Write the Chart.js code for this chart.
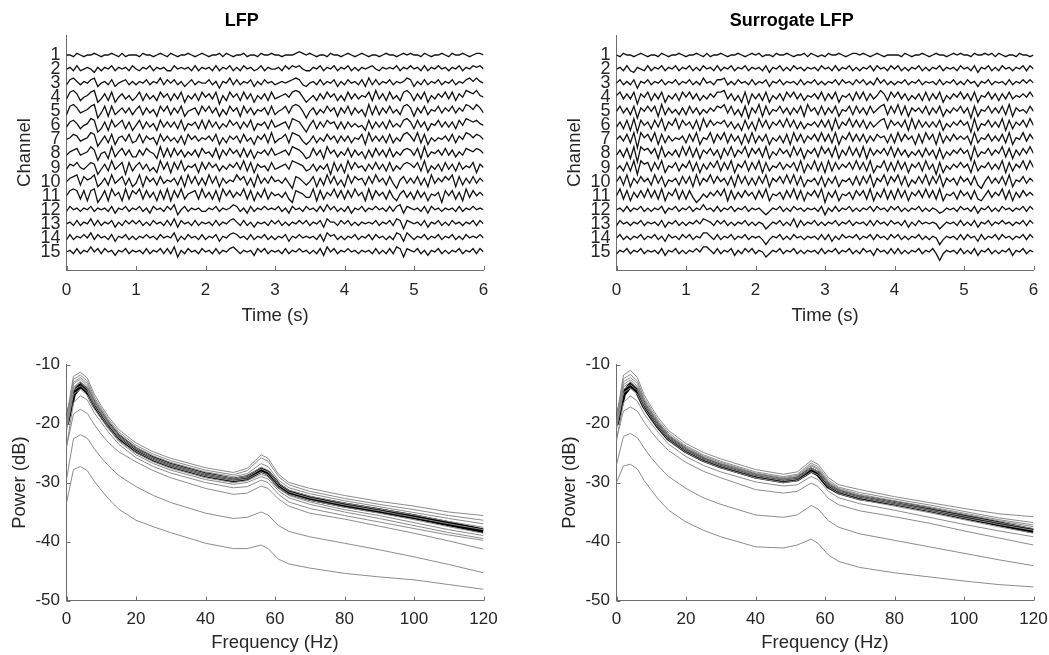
<!DOCTYPE html>
<html>
<head>
<meta charset="utf-8">
<script src="https://cdn.jsdelivr.net/npm/chart.js@4.4.0/dist/chart.umd.min.js"></script>
<style>
  html, body { margin: 0; padding: 0; background: #fff; overflow: hidden; width: 1049px; height: 655px; }
  canvas { position: absolute; }
</style>
</head>
<body>
<canvas id="lfp" width="550" height="330" style="left:0;top:0"></canvas>
<canvas id="surr" width="550" height="330" style="left:550px;top:0"></canvas>
<canvas id="psdL" width="550" height="325" style="left:0;top:330px"></canvas>
<canvas id="psdR" width="550" height="325" style="left:550px;top:330px"></canvas>
<script>
// channel rows and tick labels
const channels = [1, 2, 3, 4, 5, 6, 7, 8, 9, 10, 11, 12, 13, 14, 15];
const timeTicks = [0, 1, 2, 3, 4, 5, 6];
const freqTicks = [0, 20, 40, 60, 80, 100, 120];
const powerTicks = [-50, -40, -30, -20, -10];

// traces, one digit per 0.05 s (5 = baseline, higher = up)
const sampleStep = 0.05;
const traceScale = 0.12;
const lfpTraces = [
  "5546545565 4556546455 5465545654 6545565456 5455646545 5645546556 5545556765 6545546554 5654565455 4565545656 5546545565 4655654566 5",
  "5647456536 4657465647 5465746564 4756564746 5647465746 4756457465 5647576754 4657465746 5746465675 4656574657 5647465756 4657465767 5",
  "4786465783 5647356746 4657465847 5746357465 5746265847 4657364756 4565678743 5647465736 4756473847 4657465687 3647465746 5746578686 5",
  "4897356892 4738257463 5837463857 3748264738 5748163857 3847264738 4567589852 4637485736 3847465839 4738463897 3748264758 4837598796 5",
  "3897456891 4828357473 6837462858 3748256738 5847263857 2847365738 3568489851 5736485727 4837462938 3748463897 2748365847 5847598697 4",
  "4786356981 3728468372 5837462847 4738265738 3847364857 3748265738 4567398741 5837486737 3746452837 4738464897 3847265847 4738598786 5",
  "5687456981 4738267483 4837562847 4637285746 5748263757 3846275839 3568398742 4736485737 4736582947 4738364897 4938264657 4837598687 5",
  "4678456971 5629368473 3748652938 3847364738 5638274857 3837265748 4567498752 3847295736 4837462738 4738364787 4829365748 4736487687 5",
  "4768546871 4739468183 6847352948 2849365728 4857364758 4938275638 4567498763 4736471837 2948563748 4738364787 5839264738 4738465827 5",
  "5789386792 4739468372 4928573846 5738294837 3948274659 6837294748 5647418753 5827394836 2948673849 5738416847 4837294758 6928374847 5",
  "5898382891 4829572938 6938472839 2849367839 4738295847 5938274937 5647318764 4928375948 3849572938 5738426847 3847265718 5837294857 5",
  "4756465746 5647365746 5746375647 5825746564 4657465687 4637465756 5746375647 5647485746 4736574657 5647478376 5647375646 5647465756 5",
  "5647465847 4657364757 5746475647 4837564746 5647465786 4746365647 5746465757 4657386647 5746465657 4657487276 5647365746 4756465747 5",
  "4746575847 5647365746 4657564756 5836475647 4657365787 5647465746 4657365756 5647386746 4657465747 5646487386 4657465746 5746475657 5",
  "5647465857 4756365746 5647465747 4826475647 5647465786 4656375746 5647465756 4647385746 5756465647 4647487276 5746365746 4657465747 5"
];
const surrogateTraces = [
  "5465545654 5546545565 4556546455 6545565456 5645546556 5455646545 4655654566 5654565455 5546545565 4565545656 5546556564 6545546554 5",
  "5647436547 4657465746 5746475647 4657465746 5647365746 4756465647 5647465746 4657475647 5746465746 4657465647 5647365746 4756465747 5",
  "5746472657 4657465746 5746485647 7846475647 4657365746 5647465746 4657475647 5746485746 4657465746 5647465746 4756365746 5647465757 5",
  "6847481758 3748264738 5847364758 8947362817 4738264738 5847365748 3748265738 4837469738 5847364738 3748264758 4738265847 3748465758 5",
  "5847381758 5829374637 3847364758 7948362817 4928365847 3748295738 3748265838 4738468938 4938275748 3748264758 4718265847 4839275648 5",
  "4738291857 3849275938 5738294857 6847362837 2948375849 4837365748 4829375948 4837468938 5748293847 4748264758 5719265847 4928375849 5",
  "5748390968 4928374657 3849265938 5938472839 3748264738 2948375849 4839275948 4837486738 3948572839 5829374857 5729365847 4839265948 5",
  "4738290978 5829364739 4938275847 2849375938 5839264857 3948275839 5839274948 3928475849 3847364738 4728264758 5719365847 5938274859 5",
  "4638391978 3849265837 5938274859 3849275938 4928365847 5839274938 2938475849 4839265938 3948275839 4718264758 5729365847 4928375949 5",
  "5839274857 3948265738 4829375948 5738294837 3849275849 4938265738 2748265738 3849275938 5938264849 3849275738 5738315847 4839265847 5",
  "5938274849 4839275938 3841364758 5928374857 3849265738 4938275849 1748265738 5839274938 3948275849 4839265738 5738325847 5938274857 5",
  "5647465746 4657365746 5746585647 4657465746 5642465746 4756465647 2647465746 4657475647 5746465746 4653465647 5647365746 4756465747 5",
  "4756465746 5647365746 4657587647 5746465746 4652465746 4837465746 4657465746 5647475647 5647364756 5652465647 4647365746 5756465747 5",
  "5746465746 5746375647 5746588647 4657465746 5641465746 4756465647 4736475657 4657475647 5746465746 4651465647 4756374657 4756465747 5",
  "4657465746 5647365746 4657588647 4657364757 4652465746 5746465647 4657465746 4756375647 4746465746 5740465647 4647365746 4657365746 5"
];

// power spectra (dB) read at these frequencies
const freqs = [0, 2, 4, 6, 8, 10, 12, 15, 20, 25, 30, 40, 48, 52, 56, 58, 61, 64, 70, 80, 90, 100, 110, 120];
const psdMeanLfp = [-20, -15, -13.5, -14.5, -16.8, -18.5, -20.2, -22.3, -24.5, -26, -27.1, -28.7, -29.6, -29.2, -27.9, -28.4, -30.5, -31.7, -32.7, -33.8, -34.8, -35.8, -37, -38.2];
const psdChannelsLfp = [
  [-19, -12, -11.3, -12.3, -15, -17, -18.8, -21, -23.3, -24.8, -25.9, -27.5, -28.3, -27.6, -25.3, -25.9, -28.6, -30, -31, -32.2, -33.2, -34, -35, -35.6],
  [-19.5, -12.5, -11.8, -12.8, -15.5, -17.4, -19.2, -21.4, -23.7, -25.2, -26.3, -27.9, -28.7, -28, -25.8, -26.4, -29, -30.4, -31.5, -32.7, -33.7, -34.6, -35.6, -36.4],
  [-19.8, -13, -12.2, -13.2, -15.8, -17.7, -19.5, -21.7, -24, -25.5, -26.6, -28.2, -29, -28.5, -26.8, -27.3, -29.6, -30.9, -31.9, -33.1, -34.1, -35.1, -36.1, -37],
  [-20, -13.3, -12.5, -13.6, -16.1, -18, -19.8, -22, -24.2, -25.8, -26.9, -28.5, -29.3, -28.9, -27.4, -27.9, -30.1, -31.3, -32.3, -33.5, -34.5, -35.5, -36.6, -37.6],
  [-20.2, -13.8, -12.9, -13.9, -16.4, -18.2, -20, -22.2, -24.4, -26, -27.1, -28.7, -29.5, -29.1, -27.7, -28.2, -30.4, -31.6, -32.6, -33.8, -34.8, -35.9, -37, -38],
  [-20.5, -14, -13.1, -14.2, -16.6, -18.4, -20.1, -22.4, -24.7, -26.2, -27.3, -28.9, -29.7, -29.4, -28.2, -28.7, -30.8, -32, -33, -34.2, -35.2, -36.3, -37.5, -38.6],
  [-20.8, -14.4, -13.6, -14.6, -17, -18.8, -20.5, -22.8, -25, -26.5, -27.6, -29.2, -30, -29.7, -28.6, -29, -31, -32.2, -33.3, -34.6, -35.6, -36.8, -38, -39],
  [-21.2, -15, -14.2, -15.2, -17.5, -19.2, -20.8, -23, -25.3, -26.8, -27.9, -29.5, -30.3, -30, -29, -29.4, -31.4, -32.6, -33.7, -35, -36.1, -37.3, -38.5, -39.5],
  [-24, -16.5, -15.3, -16, -18.2, -19.8, -21.4, -23.5, -25.8, -27.3, -28.4, -30, -30.9, -30.7, -29.6, -30, -32, -33.3, -34.4, -35.6, -36.7, -37.8, -38.9, -39.8],
  [-24, -18.4, -17.6, -18.3, -20.2, -21.8, -23.2, -24.8, -26.5, -28, -29.2, -31, -32, -31.8, -30.6, -31, -32.8, -34, -35.2, -36.2, -37.4, -38.6, -39.9, -41.3],
  [-29.5, -22.6, -21.9, -22.5, -24.3, -25.8, -27.1, -28.8, -30.7, -32.2, -33.4, -35.2, -36.1, -35.9, -35, -35.5, -37.3, -38.3, -39.2, -40.3, -41.4, -42.6, -43.9, -45.3],
  [-33.5, -27.8, -27.3, -28, -29.8, -31.3, -32.7, -34.5, -36.4, -37.5, -38.5, -40.3, -41.2, -41.2, -40.6, -41.2, -43, -43.8, -44.5, -45.4, -46, -46.5, -47.3, -48.1]
];
const psdMeanSurr = [-20, -15, -13.5, -14.5, -17, -18.8, -20.4, -22.5, -24.6, -26.1, -27.2, -28.9, -29.7, -29.4, -27.9, -28.5, -30.6, -31.6, -32.6, -33.5, -34.6, -35.8, -37, -38.2];
const psdChannelsSurr = [
  [-19, -11.8, -11, -12.2, -15.2, -17.2, -19, -21.2, -23.4, -24.9, -26, -27.8, -28.6, -28.2, -26.3, -26.9, -29.2, -30.4, -31.2, -32.4, -33.4, -34.4, -35.3, -35.8],
  [-19.5, -12.4, -11.7, -12.8, -15.7, -17.6, -19.4, -21.6, -23.8, -25.3, -26.4, -28.2, -29, -28.6, -26.7, -27.3, -29.6, -30.8, -31.7, -32.8, -33.8, -34.9, -36, -36.8],
  [-19.8, -12.9, -12.2, -13.2, -16, -17.9, -19.7, -21.9, -24, -25.5, -26.6, -28.4, -29.2, -28.8, -27, -27.6, -29.9, -31, -32, -33.1, -34.1, -35.2, -36.3, -37.2],
  [-20, -13.4, -12.6, -13.7, -16.3, -18.2, -19.9, -22.1, -24.2, -25.7, -26.8, -28.6, -29.4, -29, -27.2, -27.8, -30.1, -31.2, -32.2, -33.3, -34.3, -35.4, -36.5, -37.5],
  [-20.3, -13.8, -13, -14, -16.6, -18.4, -20.1, -22.3, -24.4, -25.9, -27, -28.7, -29.5, -29.2, -27.5, -28.1, -30.3, -31.4, -32.4, -33.5, -34.6, -35.7, -36.8, -37.8],
  [-20.6, -14.2, -13.4, -14.4, -16.9, -18.7, -20.4, -22.5, -24.6, -26.1, -27.2, -28.9, -29.7, -29.4, -27.7, -28.3, -30.5, -31.6, -32.6, -33.7, -34.8, -36, -37.1, -38.1],
  [-21, -14.8, -14, -15, -17.4, -19.1, -20.7, -22.8, -24.9, -26.4, -27.5, -29.2, -30, -29.7, -28.2, -28.7, -30.8, -31.9, -32.9, -34, -35.1, -36.3, -37.5, -38.6],
  [-23, -16.5, -15.3, -16.2, -18.4, -20, -21.5, -23.5, -25.6, -27.1, -28.2, -29.9, -30.6, -30.4, -29, -29.5, -31.5, -32.6, -33.6, -34.7, -35.9, -37.1, -38.2, -39.2],
  [-22.5, -17.9, -17.2, -17.9, -19.8, -21.4, -22.8, -24.6, -26.6, -28.1, -29.2, -31.2, -31.8, -31.5, -30.1, -30.7, -32.7, -33.8, -34.8, -35.8, -36.9, -38.2, -39.4, -40.6],
  [-27, -22.2, -21.7, -22.4, -24.2, -25.8, -27.2, -29, -31, -32.6, -33.7, -35.5, -35.9, -35.5, -33.9, -34.5, -36.5, -37.6, -38.7, -39.8, -40.9, -42, -43.1, -44.1],
  [-30, -27.2, -26.9, -27.7, -29.7, -31.3, -32.8, -34.7, -36.7, -38.1, -39.2, -40.9, -41.1, -40.6, -39.6, -40.3, -42.3, -43.4, -44.4, -45.3, -46, -46.7, -47.3, -47.7]
];

const axisColor = '#6e6e6e';
const textColor = '#262626';
Chart.defaults.font.family = "'Liberation Sans', Arial, Helvetica, sans-serif";
Chart.defaults.color = textColor;

// MATLAB style: ticks point into the plot
const innerTicks = {
    id: 'innerTicks',
    afterDraw(chart, args, opts) {
        const {ctx, chartArea, scales} = chart;
        ctx.save();
        ctx.strokeStyle = axisColor;
        ctx.lineWidth = 1;
        ctx.beginPath();
        scales.x.ticks.forEach(t => {
            const px = Math.round(scales.x.getPixelForValue(t.value)) + 0.5;
            ctx.moveTo(px, chartArea.bottom);
            ctx.lineTo(px, chartArea.bottom - 4);
        });
        if (opts.yTicks) {
            scales.y.ticks.forEach(t => {
                const py = Math.round(scales.y.getPixelForValue(t.value)) + 0.5;
                ctx.moveTo(chartArea.left, py);
                ctx.lineTo(chartArea.left + 4, py);
            });
        }
        ctx.stroke();
        ctx.restore();
    }
};

function fixedTicks(values) {
    return function(scale) {
        scale.ticks = values.map(v => ({value: v}));
    };
}

function traceDatasets(traces) {
    return traces.map((s, k) => {
        const digits = s.replace(/\s/g, '');
        return {
            data: Array.from(digits, (d, i) => ({x: i * sampleStep, y: channels[k] - (Number(d) - 5) * traceScale})),
            borderColor: '#111',
            borderWidth: 1.3,
            pointRadius: 0,
            tension: 0
        };
    });
}

function psdDatasets(mean, chans) {
    const sets = chans.map(vals => ({
        data: vals.map((v, i) => ({x: freqs[i], y: v})),
        borderColor: 'rgb(140,140,140)',
        borderWidth: 1,
        pointRadius: 0,
        tension: 0
    }));
    sets.push({
        data: mean.map((v, i) => ({x: freqs[i], y: v})),
        borderColor: '#000',
        borderWidth: 5,
        pointRadius: 0,
        tension: 0
    });
    return sets;
}

function axis(extra) {
    return Object.assign({
        type: 'linear',
        grid: {drawOnChartArea: false, drawTicks: false},
        border: {color: axisColor, width: 1},
    }, extra);
}

function traceChart(id, title, traces) {
    return new Chart(document.getElementById(id), {
        type: 'line',
        data: {datasets: traceDatasets(traces)},
        options: {
            responsive: false,
            animation: false,
            devicePixelRatio: 1,
            layout: {padding: {left: 0, right: 66.5, top: 0, bottom: 0}},
            plugins: {
                legend: {display: false},
                tooltip: {enabled: false},
                title: {display: true, text: title, color: '#000', font: {size: 18, weight: 'bold'}, padding: {top: 10.7, bottom: 2.7}},
                innerTicks: {yTicks: false}
            },
            scales: {
                x: axis({
                    min: 0, max: 6,
                    afterBuildTicks: fixedTicks(timeTicks),
                    ticks: {font: {size: 17}, padding: 10.3, maxRotation: 0},
                    title: {display: true, text: 'Time (s)', font: {size: 18.5}, padding: {top: 0, bottom: 2.9}},
                    afterFit: s => { s.height = 60; }
                }),
                y: axis({
                    reverse: true, min: -0.42, max: 16.28,
                    afterBuildTicks: fixedTicks(channels),
                    ticks: {font: {size: 18}, padding: 6, autoSkip: false},
                    title: {display: true, text: 'Channel', font: {size: 18.5}, padding: {top: 14, bottom: 0}},
                    afterFit: s => { s.width = 66.5; }
                })
            }
        },
        plugins: [innerTicks]
    });
}

function psdChart(id, mean, chans) {
    return new Chart(document.getElementById(id), {
        type: 'line',
        data: {datasets: psdDatasets(mean, chans)},
        options: {
            responsive: false,
            animation: false,
            devicePixelRatio: 1,
            layout: {padding: {left: 0, right: 66.5, top: 34.5, bottom: 0}},
            plugins: {
                legend: {display: false},
                tooltip: {enabled: false},
                innerTicks: {yTicks: true}
            },
            scales: {
                x: axis({
                    min: 0, max: 120,
                    afterBuildTicks: fixedTicks(freqTicks),
                    ticks: {font: {size: 17}, padding: 8.3, maxRotation: 0},
                    title: {display: true, text: 'Frequency (Hz)', font: {size: 18.5}, padding: {top: 0, bottom: 0.9}},
                    afterFit: s => { s.height = 54.5; }
                }),
                y: axis({
                    min: -50, max: -10,
                    afterBuildTicks: fixedTicks(powerTicks),
                    ticks: {font: {size: 17}, padding: 6.5},
                    title: {display: true, text: 'Power (dB)', font: {size: 18.5}, padding: {top: 8.4, bottom: 0}},
                    afterFit: s => { s.width = 66.5; }
                })
            }
        },
        plugins: [innerTicks]
    });
}

traceChart('lfp', 'LFP', lfpTraces);
traceChart('surr', 'Surrogate LFP', surrogateTraces);
psdChart('psdL', psdMeanLfp, psdChannelsLfp);
psdChart('psdR', psdMeanSurr, psdChannelsSurr);
</script>
</body>
</html>
